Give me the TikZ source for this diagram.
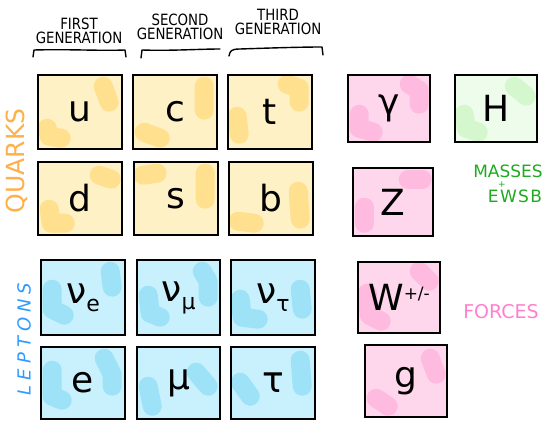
\documentclass[tikz,border=0pt]{standalone}
\usepackage{fontspec}
\setmainfont{DejaVu Sans}
\newfontfamily\symfont{DejaVu Sans}
\newfontfamily\genfont[FakeStretch=0.86]{DejaVu Sans}
\usetikzlibrary{calc,backgrounds}
\definecolor{qlight}{HTML}{FFF1C6}
\definecolor{qdark}{HTML}{FFE08F}
\definecolor{llight}{HTML}{C8F1FD}
\definecolor{ldark}{HTML}{9EE2F8}
\definecolor{flight}{HTML}{FFD7EC}
\definecolor{fdark}{HTML}{FFBADF}
\definecolor{hlight}{HTML}{EEFCEB}
\definecolor{hdark}{HTML}{D5F7CE}
\definecolor{qtext}{HTML}{FFB04A}
\definecolor{ltext}{HTML}{2E9BFF}
\definecolor{htext}{HTML}{1FAA1F}
\definecolor{ftext}{HTML}{FF80CF}
\newcommand\tile[4]{%
  \fill[#2] (#1.north west) rectangle (#1.south east);
  \begin{scope}[shift={(#1.north west)}]\draw[blob=#3] #4;\end{scope}}
\newcommand\subsym[1]{\raisebox{-8pt}{\fontsize{22}{22}\selectfont #1}}
\begin{document}
\begin{tikzpicture}[x=1pt,y=-1pt,
  box/.style={draw=black, line width=1.6pt, inner sep=0pt,
    font=\symfont\fontsize{36}{38}\selectfont},
  blob/.style={line width=19pt, line cap=round, line join=round, draw=#1},
  gen/.style={align=center, font=\genfont\fontsize{15.5}{14}\selectfont},
  brace/.style={line width=1.4pt, line cap=round, line join=round}]
\useasboundingbox (0,0) rectangle (545,420);
% quarks
\node[box, minimum width=84pt, minimum height=74pt] (u) at (80,112) {u};
\node[box, minimum width=84pt, minimum height=74pt] (c) at (175,112) {c};
\node[box, minimum width=84pt, minimum height=74pt] (t) at (270,112) {t};
\node[box, minimum width=84pt, minimum height=73pt] (d) at (80,198.5) {d};
\node[box, minimum width=84pt, minimum height=73pt] (s) at (176,198.5) {s};
\node[box, minimum width=84pt, minimum height=73pt] (b) at (271,198.5) {b};
% leptons
\node[box, minimum width=84pt, minimum height=75pt] (ve) at (83,297.5) {ν\subsym{e}};
\node[box, minimum width=83pt, minimum height=75pt] (vm) at (178.5,297.5) {ν\subsym{μ}};
\node[box, minimum width=84pt, minimum height=75pt] (vt) at (273,297.5) {ν\subsym{τ}};
\node[box, minimum width=84pt, minimum height=72pt] (e) at (83,383) {e};
\node[box, minimum width=83pt, minimum height=72pt] (mu) at (178.5,383) {μ};
\node[box, minimum width=84pt, minimum height=72pt] (tau) at (273,383) {τ};
% bosons
\node[box, minimum width=82pt, minimum height=67pt] (gamma) at (389,108.5) {γ};
\node[box, minimum width=82pt, minimum height=67pt] (H) at (496,108.5) {H};
\node[box, minimum width=80pt, minimum height=68pt] (Z) at (393,202) {Z};
\node[box, minimum width=82pt, minimum height=71pt] (W) at (399,297.5) {W\raisebox{11pt}{\fontsize{17}{17}\selectfont +/-}};
\node[box, minimum width=82pt, minimum height=72pt] (g) at (406,381) {g};
\begin{scope}[on background layer]
\tile{u}{qlight}{qdark}{(66,12) -- (72,28) (10,54) -- (12,62) -- (24,64)}
\tile{c}{qlight}{qdark}{(72,12) -- (72,36) (12,58) -- (28,64)}
\tile{t}{qlight}{qdark}{(60,10) -- (72,14) -- (72,28) (10,42) -- (12,60)}
\tile{d}{qlight}{qdark}{(62,14) -- (74,18) (12,48) -- (14,62) -- (28,62)}
\tile{s}{qlight}{qdark}{(72,12) -- (72,38) (10,14) -- (24,12)}
\tile{b}{qlight}{qdark}{(70,30) -- (72,58) (10,60) -- (26,62)}
\tile{ve}{llight}{ldark}{(70,12) -- (72,28) (12,30) -- (12,50) -- (24,56)}
\tile{vm}{llight}{ldark}{(66,12) -- (72,22) -- (72,38) (12,36) -- (14,54) -- (24,58)}
\tile{vt}{llight}{ldark}{(70,30) -- (72,50) (10,40) -- (12,58) -- (28,60)}
\tile{e}{llight}{ldark}{(64,12) -- (72,28) -- (72,40) (12,24) -- (12,50) -- (22,54)}
\tile{mu}{llight}{ldark}{(60,26) -- (72,40) (12,40) -- (16,60)}
\tile{tau}{llight}{ldark}{(70,14) -- (72,40) (10,36) -- (20,50)}
\tile{gamma}{flight}{fdark}{(62,10) -- (72,16) -- (72,30) (12,40) -- (12,54) -- (26,58)}
\tile{H}{hlight}{hdark}{(60,12) -- (72,22) (10,40) -- (12,54) -- (24,58)}
\tile{Z}{flight}{fdark}{(56,12) -- (70,12) (12,40) -- (12,56)}
\tile{W}{flight}{fdark}{(62,10) -- (72,20) (10,32) -- (12,54) -- (24,60)}
\tile{g}{flight}{fdark}{(66,14) -- (72,30) (12,54) -- (24,62)}
\end{scope}
% generation labels
\node[gen] (g1) at (79,31) {FIRST\\GENERATION};
\node[gen] (g2) at (180,27) {SECOND\\GENERATION};
\node[gen] (g3) at (278,22) {THIRD\\GENERATION};
\draw[brace] (33,57) -- (34,50) .. controls (70,49) and (100,51) .. (125,50) -- (126,57);
\draw[brace] (141,58) -- (142,50) .. controls (170,51) and (200,49) .. (220,49);
\draw[brace] (229,56) .. controls (230,51) and (231,49) .. (240,49) .. controls (270,48) and (300,47) .. (322,47) -- (323,55);
% side labels
\node[rotate=90, text=qtext, font=\fontsize{25}{25}\selectfont] (quarks) at (17,161) {QUARKS};
\node[rotate=90, text=ltext, font=\itshape\fontsize{18}{18}\selectfont\addfontfeature{LetterSpace=28}] (leptons) at (24,339) {LEPTONS};
\node[text=htext, inner sep=0pt, font=\fontsize{17}{17}\selectfont] (masses) at (508,171) {MASSES};
\node[text=htext, inner sep=0pt, font=\fontsize{9}{9}\selectfont] (plus) at (502,184.5) {+};
\node[text=htext, inner sep=0pt, font=\fontsize{17}{17}\selectfont\addfontfeature{LetterSpace=8}] (ewsb) at (515,196) {EWSB};
\node[text=ftext, font=\fontsize{19}{19}\selectfont] (forces) at (501,312) {FORCES};
\end{tikzpicture}
\end{document}
